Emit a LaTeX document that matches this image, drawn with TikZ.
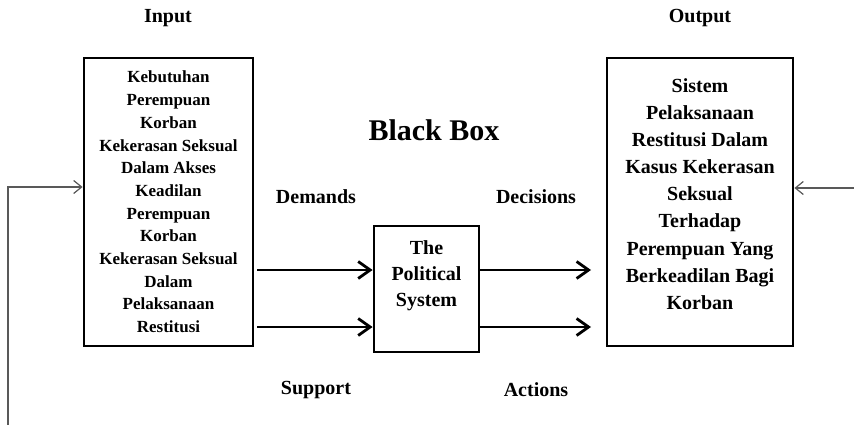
\documentclass[tikz,border=0pt]{standalone}
\usepackage{fontspec}
\setmainfont{Liberation Serif}
\usetikzlibrary{arrows.meta,positioning}

\begin{document}
\begin{tikzpicture}[x=1pt,y=-1pt,
  box/.style={draw,line width=2.8pt,inner sep=0pt},
  lbl/.style={font=\bfseries\fontsize{20}{26}\selectfont,align=center,inner sep=0pt},
  flow/.style={-{Straight Barb[length=12pt,width=17pt]},line width=2.8pt},
  feed/.style={-{Straight Barb[length=8pt,width=13pt]},line width=1.2pt,black!65}]
\useasboundingbox (0,0) rectangle (854,425);

% Boxes
\node[box,minimum width=169pt,minimum height=288pt] (inbox) at (168.5,202) {};
\node[box,minimum width=186pt,minimum height=288pt] (outbox) at (700,202) {};
\node[box,minimum width=105pt,minimum height=126pt] (sysbox) at (426.5,289) {};

% Box texts
\node[lbl,font=\bfseries\fontsize{17}{22.7}\selectfont] (intext) at (inbox.center)
  {Kebutuhan\\Perempuan\\Korban\\Kekerasan Seksual\\Dalam Akses\\Keadilan\\Perempuan\\Korban\\Kekerasan Seksual\\Dalam\\Pelaksanaan\\Restitusi};
\node[lbl,font=\bfseries\fontsize{20}{27.1}\selectfont] (outtext) at (700,194)
  {Sistem\\Pelaksanaan\\Restitusi Dalam\\Kasus Kekerasan\\Seksual\\Terhadap\\Perempuan Yang\\Berkeadilan Bagi\\Korban};
\node[lbl] (systext) at (426.5,276) {The\\Political\\System};

% Headings
\node[lbl] (input) at (168,18) {Input};
\node[lbl] (output) at (700,18) {Output};
\node[lbl,font=\bfseries\fontsize{30}{36}\selectfont] (blackbox) at (434,130) {Black Box};
\node[lbl] (demands) at (316,197) {Demands};
\node[lbl] (decisions) at (536,197) {Decisions};
\node[lbl] (support) at (316,390) {Support};
\node[lbl] (actions) at (536,390) {Actions};

% Flows through the system
\coordinate (dem) at (257,270);
\coordinate (sup) at (257,327);
\draw[flow] (dem) -- (dem -| sysbox.west);
\draw[flow] (sup) -- (sup -| sysbox.west);
\coordinate (dec) at (591,270);
\coordinate (act) at (591,327);
\draw[flow] (dec -| sysbox.east) -- (dec);
\draw[flow] (act -| sysbox.east) -- (act);

% Feedback
\coordinate (fbin) at (8,425);
\coordinate (fbtop) at (8,187);
\coordinate (fbout) at (854,188);
\draw[feed] (fbin) -- (fbtop) -- (fbtop -| inbox.west);
\draw[feed] (fbout) -- (fbout -| outbox.east);
\end{tikzpicture}
\end{document}
